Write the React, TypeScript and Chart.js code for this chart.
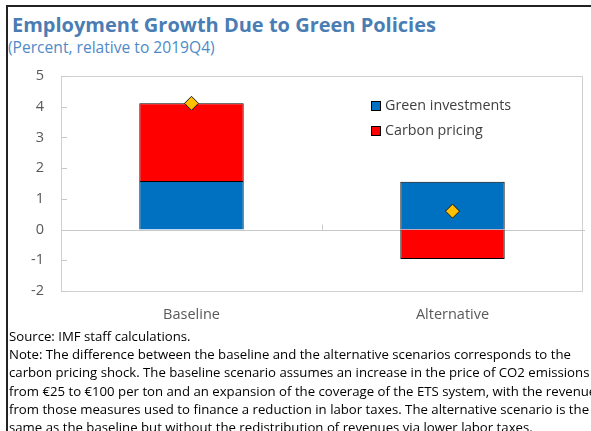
import React, { useEffect, useRef } from "react";
import { Chart, registerables } from "chart.js";

Chart.register(...registerables);

const categories = ["Baseline", "Alternative"];
const greenInvestments = [1.58, 1.56];
const carbonPricing = [2.53, -0.96];
const netEffect = [4.11, 0.6];
const yTicks = [-2, -1, 0, 1, 2, 3, 4, 5];

const titleText = "Employment Growth Due to Green Policies";
const subtitleText = "(Percent, relative to 2019Q4)";
const noteLines = [
  "Source: IMF staff calculations.",
  "Note: The difference between the baseline and the alternative scenarios corresponds to the",
  "carbon pricing shock. The baseline scenario assumes an increase in the price of CO2 emissions",
  "from €25 to €100 per ton and an expansion of the coverage of the ETS system, with the revenues",
  "from those measures used to finance a reduction in labor taxes. The alternative scenario is the",
  "same as the baseline but without the redistribution of revenues via lower labor taxes.",
];

const FONT = "'Open Sans', 'Noto Sans', sans-serif";

const framePlugin = {
  id: "frameAndTicks",
  beforeDatasetsDraw(chart: any) {
    const { ctx, chartArea, scales } = chart;
    ctx.save();
    ctx.strokeStyle = "#d0d0d0";
    ctx.lineWidth = 1;
    ctx.strokeRect(chartArea.left + 0.5, chartArea.top + 0.5, chartArea.right - chartArea.left - 1, chartArea.bottom - chartArea.top);
    ctx.strokeStyle = "#c8c8c8";
    const y = scales.y;
    y.ticks.forEach((t: any) => {
      const py = Math.round(y.getPixelForValue(t.value)) + 0.5;
      ctx.beginPath();
      ctx.moveTo(chartArea.left, py);
      ctx.lineTo(chartArea.left + 6, py);
      ctx.stroke();
    });
    const x = scales.x;
    const zy = Math.round(y.getPixelForValue(0)) + 0.5;
    ctx.strokeStyle = "#c8c8c8";
    ctx.beginPath();
    ctx.moveTo(chartArea.left, zy);
    ctx.lineTo(chartArea.right + 2, zy);
    ctx.stroke();
    for (let i = 1; i < categories.length; i++) {
      const px = Math.round((x.getPixelForValue(i - 1) + x.getPixelForValue(i)) / 2) + 0.5;
      ctx.beginPath();
      ctx.moveTo(px, zy - 6);
      ctx.lineTo(px, zy);
      ctx.stroke();
    }
    ctx.restore();
  },
  afterDraw(chart: any) {
    const { ctx, chartArea } = chart;
    ctx.save();
    ctx.font = `14.3px ${FONT}`;
    ctx.textBaseline = "middle";
    const items = chart.data.datasets.filter((d: any) => d.type !== "line");
    items.forEach((d: any, i: number) => {
      const bx = chartArea.left + 310;
      const by = chartArea.top + 25 + i * 25;
      ctx.fillStyle = d.backgroundColor;
      ctx.fillRect(bx, by, 10, 10);
      ctx.strokeStyle = "#000";
      ctx.lineWidth = 1;
      ctx.strokeRect(bx + 0.5, by + 0.5, 9, 9);
      ctx.fillStyle = "#404040";
      ctx.fillText(d.label, bx + 14, by + 5);
    });
    ctx.restore();
  },
};

function ChartView() {
  const ref = useRef<HTMLCanvasElement | null>(null);
  useEffect(() => {
    if (!ref.current) return;
    const chart = new Chart(ref.current, {
      type: "bar",
      data: {
        labels: categories,
        datasets: [
          {
            type: "line",
            label: "Net",
            data: netEffect,
            showLine: false,
            pointStyle: "rectRot",
            pointRadius: 7,
            pointBackgroundColor: "#FFC000",
            pointBorderColor: "#1a1a1a",
            pointBorderWidth: 1,
            order: 0,
          } as any,
          {
            label: "Green investments",
            data: greenInvestments,
            backgroundColor: "#0070C0",
            borderColor: "#000000",
            borderWidth: 1,
            order: 1,
          },
          {
            label: "Carbon pricing",
            data: carbonPricing,
            backgroundColor: "#FF0000",
            borderColor: "#000000",
            borderWidth: 1,
            order: 1,
          },
        ],
      },
      options: {
        animation: false,
        responsive: false,
        maintainAspectRatio: false,
        layout: { padding: { top: 16, right: 8, left: 0, bottom: 0 } },
        datasets: { bar: { barPercentage: 0.4, categoryPercentage: 1 } },
        plugins: { legend: { display: false }, tooltip: { enabled: false } },
        scales: {
          x: {
            stacked: true,
            grid: { display: false, drawTicks: false },
            border: { display: false },
            ticks: { color: "#595959", font: { family: FONT, size: 14.5 }, padding: 15 },
            afterFit: (s: any) => { s.height = 39; s.paddingLeft = 0; s.paddingRight = 0; },
          },
          y: {
            stacked: true,
            min: -2,
            max: 5,
            afterBuildTicks: (s: any) => { s.ticks = yTicks.map((v) => ({ value: v })); },
            grid: { display: false, drawTicks: false },
            border: { display: false },
            ticks: { color: "#595959", font: { family: FONT, size: 14.5 }, padding: 17 },
            afterFit: (s: any) => { s.width = 61; s.paddingTop = 0; s.paddingBottom = 0; },
          },
        },
      },
      plugins: [framePlugin],
    } as any);
    return () => chart.destroy();
  }, []);
  return <canvas ref={ref} width={591} height={270} style={{ position: "absolute", left: 0, top: 60, width: 591, height: 270 }} />;
}

export default function App() {
  useEffect(() => {
    document.body.style.margin = "0";
    document.body.style.overflow = "hidden";
  }, []);
  return (
    <div style={{ position: "relative", width: 591, height: 431, overflow: "hidden", background: "#fff", fontFamily: FONT }}>
      <div style={{ position: "absolute", left: 6, top: 5, width: 700, height: 500, borderLeft: "2px solid #222", borderTop: "2px solid #222" }} />
      <div style={{ position: "absolute", left: 12, top: 14.5, fontSize: 20, lineHeight: "20px", fontWeight: 700, color: "#4a7db3", whiteSpace: "nowrap" }}>{titleText}</div>
      <div style={{ position: "absolute", left: 8, top: 40, fontSize: 15.6, lineHeight: "15.6px", color: "#4f8ac6", whiteSpace: "nowrap" }}>{subtitleText}</div>
      <ChartView />
      <div style={{ position: "absolute", left: 9, top: 327, fontSize: 13.2, lineHeight: "18.2px", color: "#000", whiteSpace: "nowrap" }}>
        {noteLines.map((l, i) => (<div key={i}>{l}</div>))}
      </div>
    </div>
  );
}
